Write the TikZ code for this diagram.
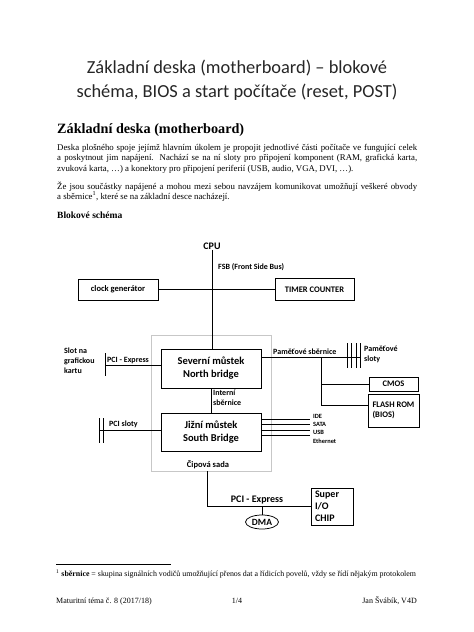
\documentclass[tikz,border=0pt]{standalone}
\usepackage{fontspec}
\setmainfont{Liberation Serif}
\newfontfamily\calfont{Carlito}
\usetikzlibrary{shapes.geometric}
\tikzset{
  wire/.style={line width=0.75pt},
  box/.style={draw, line width=0.75pt, inner sep=0pt, align=center, font=\calfont\bfseries\fontsize{8.5}{10}\selectfont},
  bigbox/.style={box, font=\calfont\bfseries\fontsize{10.5}{13}\selectfont},
  lbl/.style={inner sep=0pt, align=left, font=\calfont\bfseries\fontsize{8}{9.7}\selectfont},
  tinylbl/.style={inner sep=0pt, anchor=west, font=\calfont\bfseries\fontsize{6.4}{7}\selectfont},
  titletext/.style={inner sep=0pt, anchor=base, text=black!85, font=\calfont\fontsize{18.4}{22}\selectfont},
  headtext/.style={inner sep=0pt, anchor=base west, font=\bfseries\fontsize{14.2}{17}\selectfont},
  subhead/.style={inner sep=0pt, anchor=base west, font=\bfseries\fontsize{9.5}{11}\selectfont},
  bodytext/.style={inner sep=0pt, anchor=base west, font=\fontsize{8.8}{10}\selectfont},
  foottext/.style={inner sep=0pt, font=\fontsize{7.9}{9}\selectfont},
}
\begin{document}
\begin{tikzpicture}[x=1pt,y=-1pt]
\useasboundingbox (0,0) rectangle (474,632);
\fill[white] (0,0) rectangle (474,632);

% title
\node[titletext] (t1) at (237,73) {Základní deska (motherboard) – blokové};
\node[titletext] (t2) at (237,97) {schéma, BIOS a start počítače (reset, POST)};

% heading and body
\node[headtext] (h1) at (57,133) {Základní deska (motherboard)};
\node[bodytext] (p1) at (57,150) {\hbox to 360pt{Deska plošného spoje jejímž hlavním úkolem je propojit jednotlivé části počítače ve fungující celek}};
\node[bodytext] (p2) at (57,160.5) {\hbox to 360pt{a poskytnout jim napájení. Nachází se na ní sloty pro připojení komponent (RAM, grafická karta,}};
\node[bodytext] (p3) at (57,171) {zvuková karta, …) a konektory pro připojení periferií (USB, audio, VGA, DVI, …).};
\node[bodytext] (p4) at (57,189) {\hbox to 360pt{Že jsou součástky napájené a mohou mezi sebou navzájem komunikovat umožňují veškeré obvody}};
\node[bodytext] (p5) at (57,199.5) {a sběrnice\textsuperscript{1}, které se na základní desce nacházejí.};
\node[subhead] (h2) at (57,218) {Blokové schéma};

% diagram
\node[lbl, anchor=south, font=\calfont\bfseries\fontsize{10}{12}\selectfont] (cpu) at (212,250) {CPU};
\node[lbl, anchor=west] (fsb) at (218,267) {FSB (Front Side Bus)};
\node[box, minimum width=80pt, minimum height=21pt] (clock) at (118,289.5) {clock generátor};
\node[box, minimum width=79pt, minimum height=22pt] (timer) at (314.5,289.5) {TIMER COUNTER};
\draw[wire] (clock.east) -- (timer.west);

\node[draw=black!22, line width=0.9pt, minimum width=120pt, minimum height=136pt, inner sep=0pt] (chipset) at (211,403) {};
\node[bigbox, minimum width=100pt, minimum height=39pt] (north) at (211,368.5) {Severní můstek\\North bridge};
\node[bigbox, minimum width=100pt, minimum height=38pt] (south) at (211,432) {Jižní můstek\\South Bridge};
\draw[wire] (cpu.south) -- (cpu.south |- north.north);
\node[lbl, anchor=base, font=\calfont\bfseries\fontsize{8.5}{10}\selectfont] (cipova) at (208,467) {Čipová sada};

\draw[wire] (north.south) -- (south.north);
\node[lbl, anchor=north west] (intl) at (213,390) {Interní\\sběrnice};

% graphics slot
\coordinate (gslot) at (105,365);
\draw[wire] (gslot) -- (gslot -| north.west);
\draw[wire] ([yshift=12pt]gslot) -- ([yshift=-11pt]gslot);
\node[lbl, anchor=base west] (pcie1) at (107,362) {PCI - Express};
\node[lbl, anchor=north west] (slot) at (64,348) {Slot na\\grafickou\\kartu};

% PCI slots
\coordinate (pcis) at (99,430);
\coordinate (pcis2) at (103,430);
\draw[wire] (pcis) -- (pcis -| south.west);
\draw[wire] ([yshift=12pt]pcis) -- ([yshift=-13pt]pcis);
\draw[wire] ([yshift=12pt]pcis2) -- ([yshift=-13pt]pcis2);
\node[lbl, anchor=base west] (pcisl) at (109,426) {PCI sloty};

% memory
\coordinate (mem) at (361,357);
\coordinate (br) at (321,357);
\draw[wire] (mem -| north.east) -- (mem);
\foreach \xx in {347,351.5,356,360.5}{
  \draw[wire] (\xx,343) -- (\xx,368);
}
\node[lbl, anchor=base west] (memlbl) at (273,354.5) {Paměťové sběrnice};
\node[lbl, anchor=north west] (sloty) at (364,346) {Paměťové\\sloty};
\node[box, minimum width=49pt, minimum height=14pt] (cmos) at (393.5,384) {CMOS};
\node[box, minimum width=51pt, minimum height=33pt, align=left] (flash) at (393.5,410.5) {FLASH ROM\\(BIOS)};
\draw[wire] (br) |- (cmos.west);
\draw[wire] (br) |- ([yshift=5.5pt]flash.west);

% south bridge peripherals
\coordinate (ide) at (310,419);
\coordinate (sata) at (310,424.5);
\coordinate (usb) at (310,430);
\coordinate (eth) at (310,435.5);
\draw[wire] (ide -| south.east) -- (ide);
\draw[wire] (sata -| south.east) -- (sata);
\draw[wire] (usb -| south.east) -- (usb);
\draw[wire] (eth -| south.east) -- (eth);
\node[tinylbl] (idel) at (313,416) {IDE};
\node[tinylbl] (satal) at (313,424) {SATA};
\node[tinylbl] (usbl) at (313,432) {USB};
\node[tinylbl] (ethl) at (313,441) {Ethernet};

% bottom bus
\node[box, text width=34pt, inner xsep=4pt, minimum height=37pt, align=left, font=\calfont\bfseries\fontsize{10}{12}\selectfont] (superio) at (332,506.5) {Super\\I/O\\CHIP};
\draw[wire] ([xshift=-4pt]chipset.south) |- (superio.west);
\node[lbl, anchor=base, font=\calfont\bfseries\fontsize{10}{12}\selectfont] (pcie2) at (257,502) {PCI - Express};
\node[ellipse, draw, line width=0.75pt, minimum width=33pt, minimum height=14pt, inner sep=0pt, font=\calfont\bfseries\fontsize{9.5}{11}\selectfont] (dma) at (262,522) {DMA};
\draw[wire] (dma.north) -- (dma.north |- superio.west);

% footnote and footer
\coordinate (fnl) at (56,564);
\coordinate (fnr) at (171,564);
\draw[line width=0.6pt] (fnl) -- (fnr);
\node[foottext, anchor=base west] (fn) at (56,576) {\textsuperscript{1} \textbf{sběrnice} = skupina signálních vodičů umožňující přenos dat a řídicích povelů, vždy se řídí nějakým protokolem};
\node[foottext, anchor=base west, font=\fontsize{8}{9}\selectfont] (fl) at (56,603) {Maturitní téma č. 8 (2017/18)};
\node[foottext, anchor=base, font=\fontsize{8}{9}\selectfont] (fc) at (237,603) {1/4};
\node[foottext, anchor=base east, font=\fontsize{8}{9}\selectfont] (fr) at (417,603) {Jan Švábík, V4D};
\end{tikzpicture}
\end{document}
